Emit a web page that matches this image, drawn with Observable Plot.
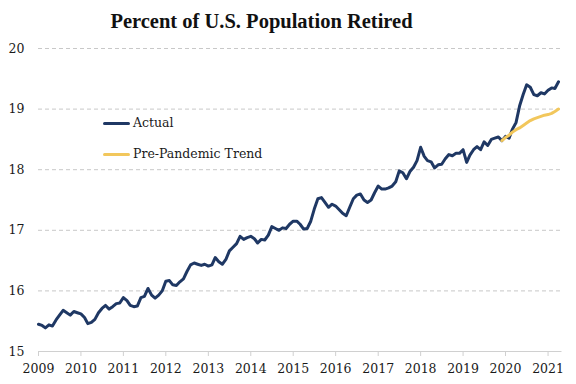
<!DOCTYPE html>
<html>
<head>
<meta charset="utf-8">
<script src="https://cdn.jsdelivr.net/npm/d3@7"></script>
<script src="https://cdn.jsdelivr.net/npm/@observablehq/plot@0.6"></script>
<style>
  body { margin: 0; background: #fff; }
  #wrap { position: relative; width: 576px; height: 384px; overflow: hidden; background: #fff; }
  #title { box-sizing: border-box; width: 523px; height: 36px; padding-top: 11px; line-height: 20.5px;
           text-align: center; font-family: "Liberation Serif", serif; font-weight: bold; font-size: 20.5px; color: #111; }
  .leg { position: absolute; left: 103px; height: 16px; display: flex; align-items: center;
         font-family: "DejaVu Serif", serif; font-size: 12.5px; line-height: 16px; color: #1a1a1a; }
  .sw { width: 27px; height: 3px; margin-right: 3px; border-radius: 1.5px; }
</style>
</head>
<body>
<div id="wrap">
  <div id="title">Percent of U.S. Population Retired</div>
  <div id="chart"></div>
  <div class="leg" style="top:115px"><span class="sw" style="background:#1f3864"></span><span>Actual</span></div>
  <div class="leg" style="top:146px"><span class="sw" style="background:#f2c75c"></span><span>Pre-Pandemic Trend</span></div>
</div>
<script>
// Monthly data, Jan 2009 .. Apr 2021
const startYear = 2009;
const actual = [
  // 2009
  15.45, 15.43, 15.39, 15.44, 15.42, 15.52, 15.60, 15.68, 15.64, 15.60, 15.66, 15.64,
  // 2010
  15.62, 15.56, 15.46, 15.48, 15.53, 15.64, 15.71, 15.76, 15.70, 15.74, 15.79, 15.80,
  // 2011
  15.89, 15.84, 15.76, 15.74, 15.75, 15.89, 15.91, 16.04, 15.93, 15.88, 15.93, 16.00,
  // 2012
  16.16, 16.17, 16.10, 16.09, 16.15, 16.20, 16.32, 16.43, 16.46, 16.44, 16.42, 16.44,
  // 2013
  16.41, 16.43, 16.55, 16.48, 16.44, 16.52, 16.66, 16.72, 16.78, 16.90, 16.85, 16.88,
  // 2014
  16.90, 16.86, 16.79, 16.85, 16.84, 16.92, 17.06, 17.03, 17.00, 17.04, 17.03, 17.10,
  // 2015
  17.15, 17.15, 17.10, 17.02, 17.03, 17.15, 17.35, 17.52, 17.54, 17.46, 17.38, 17.43,
  // 2016
  17.40, 17.34, 17.28, 17.24, 17.38, 17.52, 17.58, 17.60, 17.50, 17.46, 17.50, 17.62,
  // 2017
  17.73, 17.68, 17.68, 17.70, 17.73, 17.80, 17.98, 17.95, 17.85, 17.97, 18.04, 18.15,
  // 2018
  18.37, 18.22, 18.15, 18.13, 18.03, 18.08, 18.09, 18.18, 18.25, 18.23, 18.27, 18.27,
  // 2019
  18.33, 18.12, 18.24, 18.33, 18.38, 18.33, 18.46, 18.40, 18.50, 18.52, 18.54, 18.48,
  // 2020
  18.55, 18.52, 18.67, 18.78, 19.05, 19.24, 19.40, 19.36, 19.24, 19.22, 19.27, 19.25,
  // 2021
  19.31, 19.35, 19.34, 19.45
];
// Pre-pandemic trend, Dec 2019 .. Apr 2021
const trendStartIndex = 131;
const trend = [18.48, 18.53, 18.57, 18.62, 18.66, 18.69, 18.73, 18.77, 18.81, 18.84, 18.86, 18.88, 18.90, 18.91, 18.93, 18.96, 19.00];
const yTicks = [15, 16, 17, 18, 19, 20];
const xTickYears = [2009, 2010, 2011, 2012, 2013, 2014, 2015, 2016, 2017, 2018, 2019, 2020, 2021];

const monthDate = i => new Date(Date.UTC(startYear, i, 1));
const actualData = actual.map((v, i) => ({date: monthDate(i), value: v}));
const trendData = trend.map((v, i) => ({date: monthDate(trendStartIndex + i), value: v}));
const xTicks = xTickYears.map(y => new Date(Date.UTC(y, 0, 1)));

const chart = Plot.plot({
  width: 576,
  height: 348,
  marginTop: 12,
  marginBottom: 33,
  marginLeft: 38,
  marginRight: 14.5,
  style: {fontFamily: "DejaVu Serif, serif", fontSize: "12.5px", color: "#1a1a1a", background: "#fff"},
  x: {type: "utc", domain: [new Date(Date.UTC(2009, 0, 1)), new Date(Date.UTC(2021, 4, 1))]},
  y: {domain: [15, 20]},
  marks: [
    Plot.gridY(yTicks.filter(t => t > 15), {stroke: "#c8c8c8", strokeOpacity: 1, strokeDasharray: "4,3"}),
    Plot.ruleY([15], {stroke: "#d0d0d0", strokeWidth: 1}),
    Plot.axisY(yTicks, {tickSize: 0, tickPadding: 14, tickFormat: d => String(d), label: null, fill: "#1a1a1a"}),
    Plot.axisX(xTicks, {tickSize: 5, tickPadding: 8, tickFormat: "%Y", label: null, stroke: "#d0d0d0", fill: "#1a1a1a"}),
    Plot.lineY(actualData, {x: "date", y: "value", stroke: "#1f3864", strokeWidth: 3, strokeLinejoin: "round", strokeLinecap: "round"}),
    Plot.lineY(trendData, {x: "date", y: "value", stroke: "#f2c75c", strokeWidth: 3, strokeLinejoin: "round", strokeLinecap: "round"})
  ]
});
document.getElementById("chart").appendChild(chart);
</script>
</body>
</html>
